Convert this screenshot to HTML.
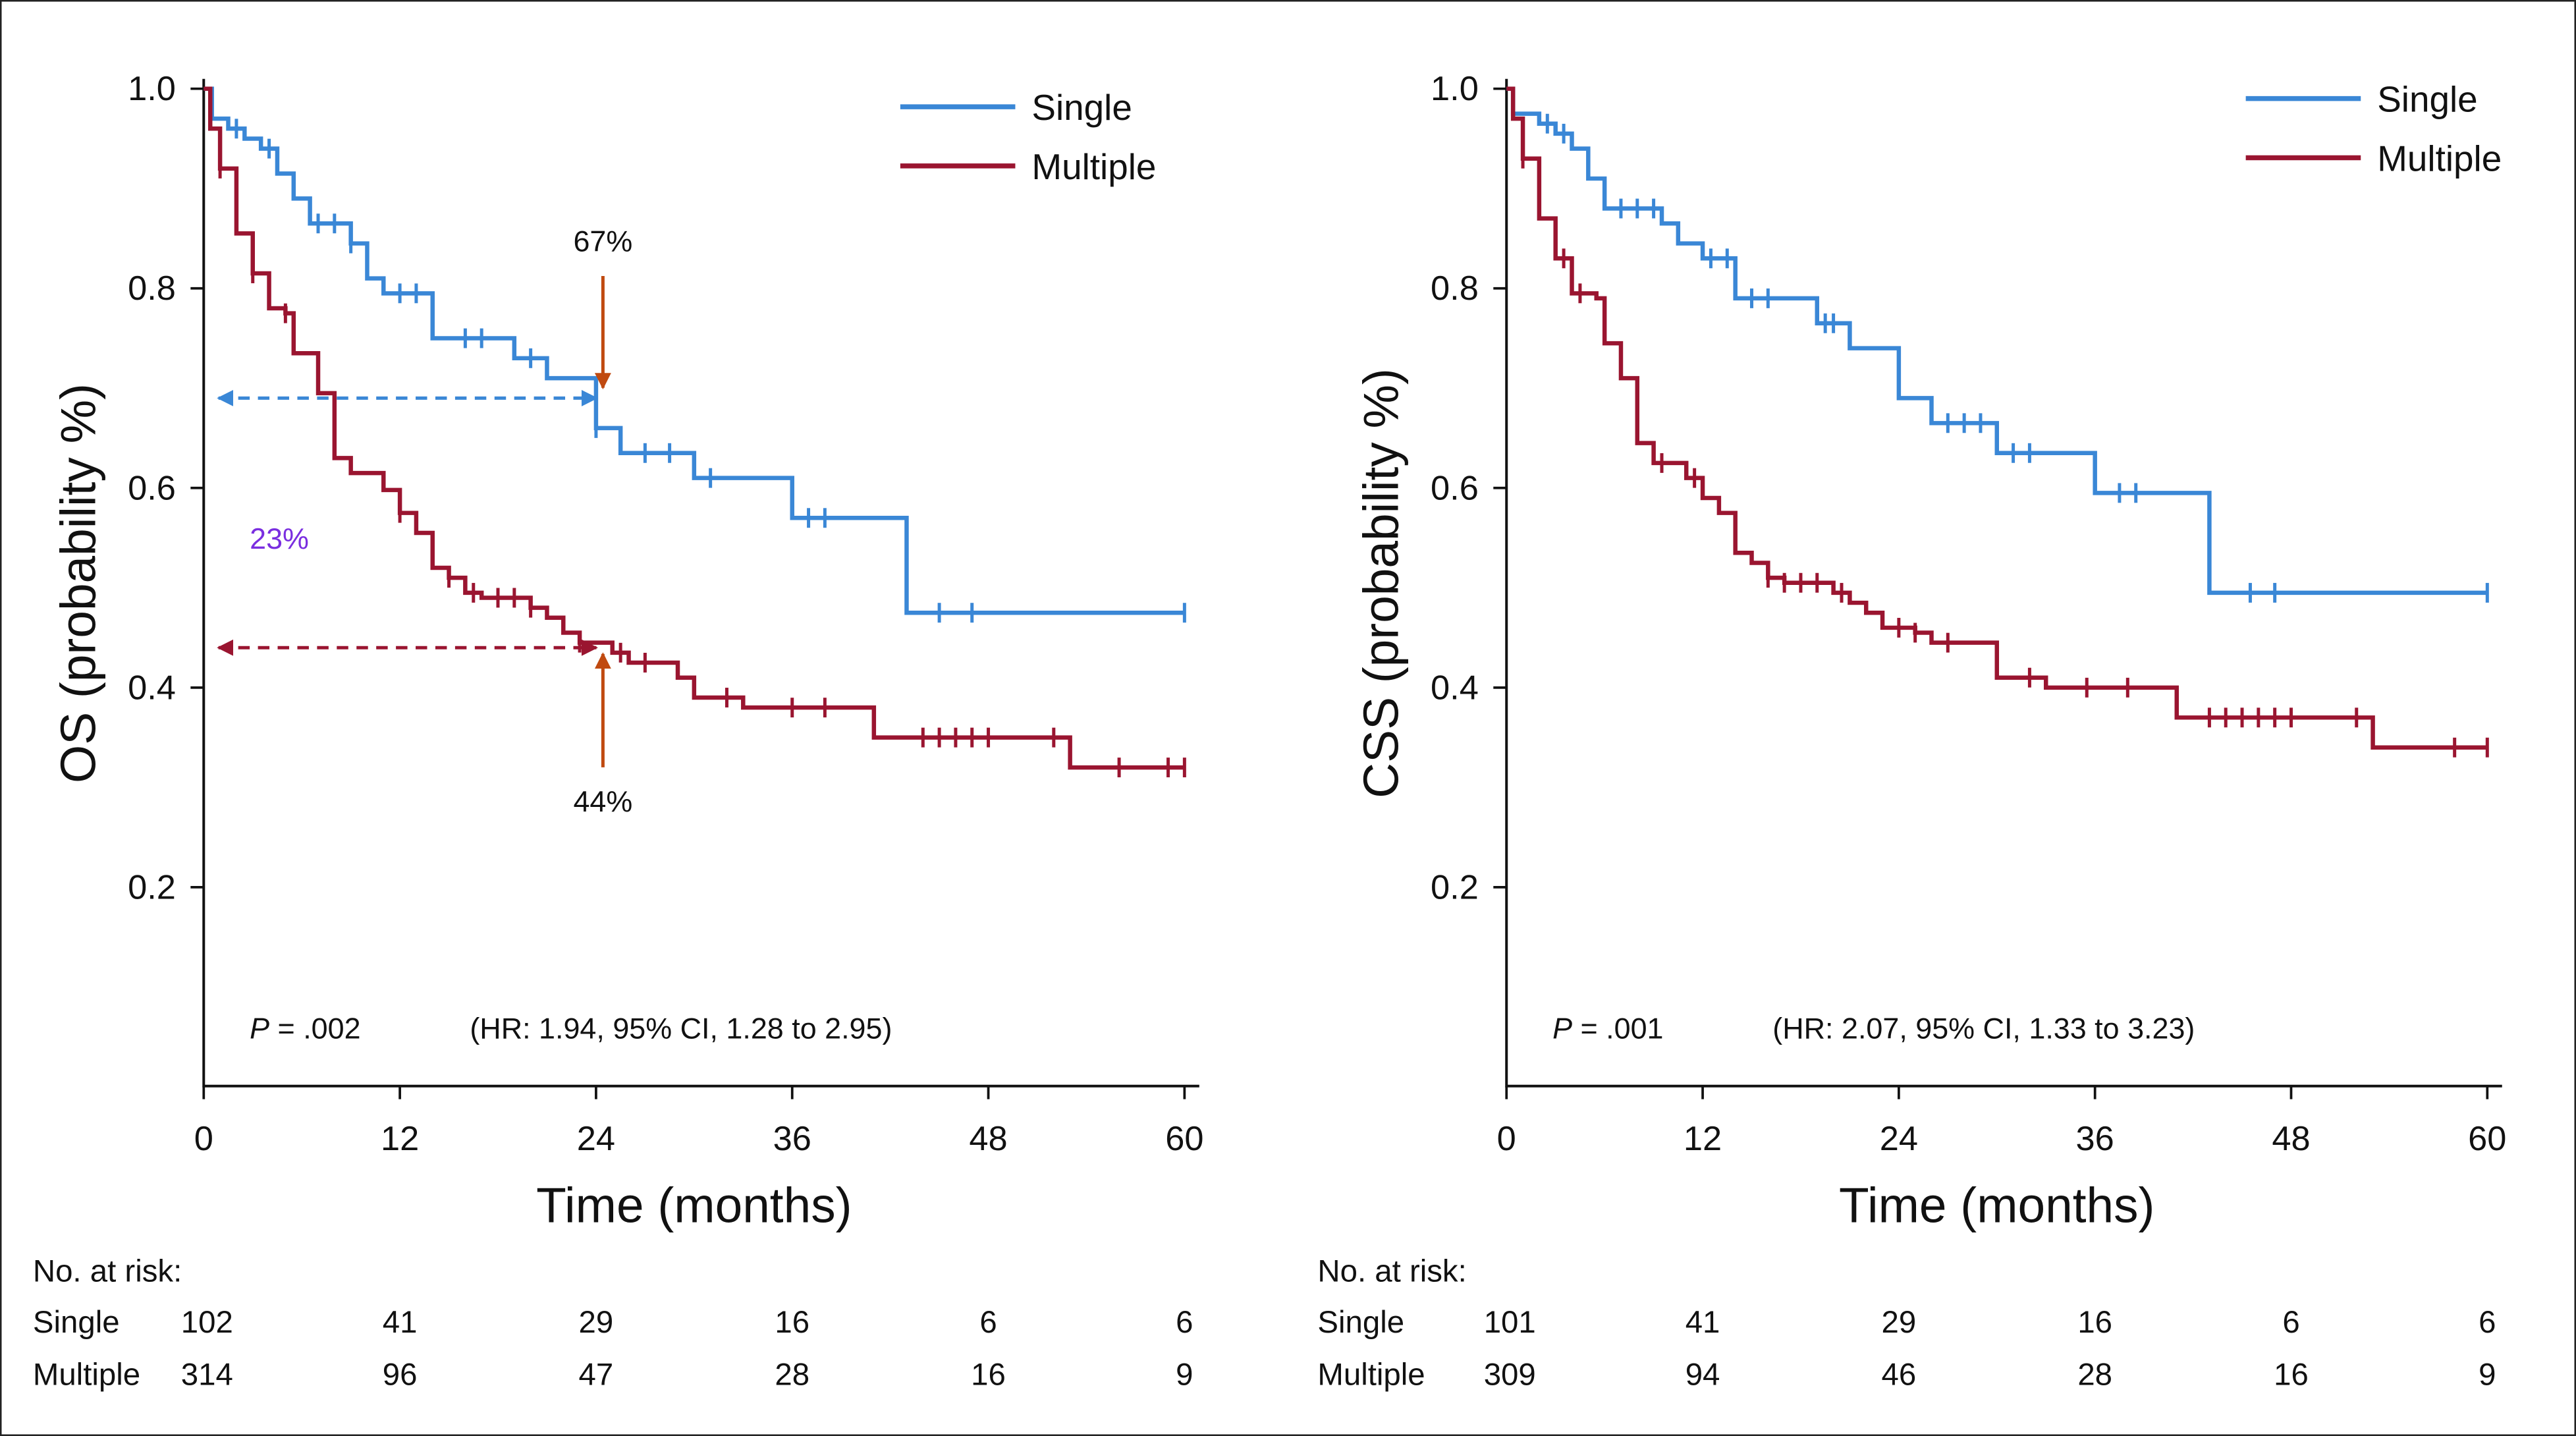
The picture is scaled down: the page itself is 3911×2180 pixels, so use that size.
<!DOCTYPE html>
<html><head><meta charset="utf-8"><style>
html,body{margin:0;padding:0;background:#fff}
svg{display:block}
text{font-family:"Liberation Sans",Arial,sans-serif;fill:#111}
</style></head><body>
<svg id="c" width="3911" height="2180" viewBox="0 0 1568 874" preserveAspectRatio="none" xmlns="http://www.w3.org/2000/svg">
<rect x="0.5" y="0.5" width="1567" height="873" fill="#fff" stroke="#222" stroke-width="1"/>
<defs>
<marker id="ab" viewBox="0 0 10 10" refX="9" refY="5" markerWidth="5" markerHeight="5" orient="auto-start-reverse"><path d="M0,0L10,5L0,10z" fill="#3a87d6"/></marker>
<marker id="ar" viewBox="0 0 10 10" refX="9" refY="5" markerWidth="5" markerHeight="5" orient="auto-start-reverse"><path d="M0,0L10,5L0,10z" fill="#9a1530"/></marker>
<marker id="ao" viewBox="0 0 10 10" refX="9" refY="5" markerWidth="5" markerHeight="5" orient="auto"><path d="M0,0L10,5L0,10z" fill="#c04a10"/></marker>
</defs>
<g id="g"></g>
</svg>
<script>
// ---- data ----
const xTicks=[0,12,24,36,48,60];
const yTicks=[0.2,0.4,0.6,0.8,1.0];
const osSingleT=[0,0.5,1.5,2.5,3.5,4.5,5.5,6.5,9,10,11,14,19,21,24,25.5,30,36,43];
const osSingleS=[1,0.97,0.96,0.95,0.94,0.915,0.89,0.865,0.845,0.81,0.795,0.75,0.73,0.71,0.66,0.635,0.61,0.57,0.475];
const osMultT=[0,0.4,1,2,3,4,5,5.5,7,8,9,11,12,13,14,15,16,17,20,21,22,23,25,26,29,30,33,41,53];
const osMultS=[1,0.96,0.92,0.855,0.815,0.78,0.775,0.735,0.695,0.63,0.615,0.598,0.575,0.555,0.52,0.51,0.495,0.49,0.48,0.47,0.455,0.445,0.435,0.425,0.41,0.39,0.38,0.35,0.32];
const cssSingleT=[0,0.4,2,3,4,5,6,9.5,10.5,12,14,19,21,24,26,30,36,43];
const cssSingleS=[1,0.975,0.965,0.955,0.94,0.91,0.88,0.865,0.845,0.83,0.79,0.765,0.74,0.69,0.665,0.635,0.595,0.495];
const cssMultT=[0,0.4,1,2,3,4,5.5,6,7,8,9,11,12,13,14,15,16,17,20,21,22,23,25,26,30,33,41,53];
const cssMultS=[1,0.97,0.93,0.87,0.83,0.795,0.79,0.745,0.71,0.645,0.625,0.61,0.59,0.575,0.535,0.525,0.51,0.505,0.495,0.485,0.475,0.46,0.455,0.445,0.41,0.4,0.37,0.34];
const osSingleCens=[2,4,7,8,9,12,13,16,17,20,24,27,28.5,31,37,38,45,47,60];
const osMultCens=[1,3,5,12,15,16.5,18,19,20,23,25.5,27,32,36,38,44,45,46,47,48,52,56,59,60];
const cssSingleCens=[2.5,3.5,7,8,9,12.5,13.5,15,16,19.5,20,27,28,29,31,32,37.5,38.5,45.5,47,60];
const cssMultCens=[1,3.5,4.5,9.5,11.5,16,17,18,19,20.5,24,25,27,32,35.5,38,43,44,45,46,47,48,52,58,60];
const riskSingleOS=[102,41,29,16,6,6];
const riskMultOS=[314,96,47,28,16,9];
const riskSingleCSS=[101,41,29,16,6,6];
const riskMultCSS=[309,94,46,28,16,9];
const END_T=60;

const g=document.getElementById('g');
const NS='http://www.w3.org/2000/svg';
function mk(tag,at,parent,txt){const e=document.createElementNS(NS,tag);for(const k in at)e.setAttribute(k,at[k]);if(txt!==undefined)e.textContent=txt;(parent||g).appendChild(e);return e;}
const BLUE='#3a87d6',RED='#9a1530';

function panel(px,yTitle,sT,sS,mT,mS,sC,mC,rS,rM,pTxt,hrTxt,leg,lx){
  const X=m=>px+m*(597/60);
  const Y=v=>661.5-v*607.5;
  const grp=mk('g',{});
  
  
  const ax=mk('path',{d:`M${px},48V661H${px+606}`,stroke:'#111','stroke-width':1.6,fill:'none'},grp);
  
  
  xTicks.forEach(t=>{
    const l=mk('line',{x1:X(t),x2:X(t),y1:661,y2:669,stroke:'#111','stroke-width':1.5},grp);
    
    
    const tx=mk('text',{x:X(t),y:700,'text-anchor':'middle','font-size':21},grp,String(t));
    
    
  });
  yTicks.forEach(t=>{
    const l=mk('line',{x1:px-8,x2:px,y1:Y(t),y2:Y(t),stroke:'#111','stroke-width':1.5},grp);
    
    
    const tx=mk('text',{x:px-17,y:Y(t)+7,'text-anchor':'end','font-size':21},grp,t.toFixed(1));
    
    
  });
  const xt=mk('text',{x:X(30),y:744,'text-anchor':'middle','font-size':30},grp,'Time (months)');
  
  
  const yt=mk('text',{x:0,y:0,'text-anchor':'middle','font-size':30,transform:`translate(${px-66},355) rotate(-90)`},grp,yTitle);
  
  
  function curve(T,S,C,col,name){
    let d=`M${X(T[0])},${Y(S[0])}`;
    for(let i=1;i<T.length;i++){d+=`H${X(T[i])}V${Y(S[i])}`;}
    d+=`H${X(END_T)}`;
    const p=mk('path',{d,stroke:col,'stroke-width':2.6,fill:'none'},grp);
    
    
    C.forEach(c=>{let v=S[0];for(let i=0;i<T.length;i++){if(T[i]<=c)v=S[i];}
      const l=mk('line',{x1:X(c),x2:X(c),y1:Y(v)-6,y2:Y(v)+6,stroke:col,'stroke-width':2},grp);
      
      });
  }
  curve(sT,sS,sC,BLUE,'single');
  curve(mT,mS,mC,RED,'multiple');
  [['Single',BLUE,leg[1]],['Multiple',RED,leg[1]+36]].forEach(([n,c,y])=>{
    const l=mk('line',{x1:leg[0],x2:leg[0]+70,y1:y,y2:y,stroke:c,'stroke-width':3},grp);
    
    
    const t=mk('text',{x:leg[0]+80,y:y+8,'font-size':22},grp,n);
    
    
  });
  const pt=mk('text',{x:px+28,y:632,'font-size':18},grp);
  
  
  mk('tspan',{'font-style':'italic'},pt,'P');
  mk('tspan',{},pt,pTxt);
  const hr=mk('text',{x:px+162,y:632,'font-size':18},grp,hrTxt);
  
  
  const rt=mk('text',{x:lx,y:780,'font-size':19},grp,'No. at risk:');
  
  
  [['Single',rS,811],['Multiple',rM,843]].forEach(([n,arr,y])=>{
    const t=mk('text',{x:lx,y,'font-size':19},grp,n);
    
    
    arr.forEach((v,i)=>{const tx=mk('text',{x:X(xTicks[i])+(i==0?2:0),y,'text-anchor':'middle','font-size':19},grp,String(v));
      
      });
  });
  return {X,Y,grp};
}
const L=panel(124,'OS (probability %)',osSingleT,osSingleS,osMultT,osMultS,osSingleCens,osMultCens,riskSingleOS,riskMultOS,' = .002','(HR: 1.94, 95% CI, 1.28 to 2.95)',[548,65],20);
panel(917,'CSS (probability %)',cssSingleT,cssSingleS,cssMultT,cssMultS,cssSingleCens,cssMultCens,riskSingleCSS,riskMultCSS,' = .001','(HR: 2.07, 95% CI, 1.33 to 3.23)',[1367,60],802);
// annotations left
const a1=mk('line',{x1:133,x2:363,y1:L.Y(0.69),y2:L.Y(0.69),stroke:BLUE,'stroke-width':2,'stroke-dasharray':'7,5','marker-start':'url(#ab)','marker-end':'url(#ab)'});


const a2=mk('line',{x1:133,x2:363,y1:L.Y(0.44),y2:L.Y(0.44),stroke:RED,'stroke-width':2,'stroke-dasharray':'7,5','marker-start':'url(#ar)','marker-end':'url(#ar)'});


const a3=mk('line',{x1:367,x2:367,y1:168,y2:236,stroke:'#c04a10','stroke-width':2,'marker-end':'url(#ao)'});


const a4=mk('line',{x1:367,x2:367,y1:467,y2:398,stroke:'#c04a10','stroke-width':2,'marker-end':'url(#ao)'});


const t1=mk('text',{x:367,y:153,'text-anchor':'middle','font-size':18},g,'67%');


const t2=mk('text',{x:367,y:494,'text-anchor':'middle','font-size':18},g,'44%');


const t3=mk('text',{x:170,y:334,'text-anchor':'middle','font-size':18,style:'fill:#7a2ee0'},g,'23%');


</script>
</body></html>
